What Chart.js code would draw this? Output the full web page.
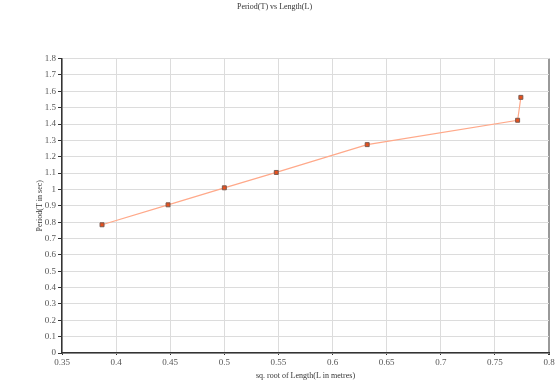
<!DOCTYPE html>
<html>
<head>
<meta charset="utf-8">
<script src="https://cdn.jsdelivr.net/npm/chart.js@4/dist/chart.umd.min.js"></script>
<style>
  html, body { margin: 0; padding: 0; background: #fff; }
  #wrap { width: 560px; height: 382px; }
</style>
</head>
<body>
<div id="wrap"><canvas id="chart" width="560" height="382"></canvas></div>
<script>
// data
const sqrtLength = [0.387, 0.448, 0.500, 0.548, 0.632, 0.771, 0.774];
const period = [0.784, 0.906, 1.010, 1.104, 1.274, 1.423, 1.563];

const chartTitle = 'Period(T) vs Length(L)';
const xTitle = 'sq. root of Length(L in metres)';
const yTitle = 'Period(T in sec)';

const points = sqrtLength.map((x, i) => ({ x: x, y: period[i] }));

const serif = '"Liberation Serif", "DejaVu Serif", serif';

new Chart(document.getElementById('chart'), {
    type: 'scatter',
    data: {
        datasets: [{
            data: points,
            showLine: true,
            borderColor: '#ffa98a',
            borderWidth: 1.2,
            pointStyle: 'rect',
            pointRadius: 2.8,
            pointBackgroundColor: '#e8501c',
            pointBorderColor: '#7a5a50',
            pointBorderWidth: 1
        }]
    },
    options: {
        responsive: false,
        animation: false,
        layout: { padding: { top: 2, right: 11, left: 0, bottom: 0 } },
        plugins: {
            legend: { display: false },
            tooltip: { enabled: false },
            title: {
                display: true,
                text: chartTitle,
                color: '#333',
                font: { family: serif, size: 8, weight: 'normal' },
                padding: { top: 0, bottom: 47 }
            }
        },
        scales: {
            x: {
                type: 'linear',
                min: 0.35,
                max: 0.8,
                afterFit: (s) => { s.height = 29; },
                ticks: {
                    stepSize: 0.05,
                    color: '#555',
                    padding: 2,
                    font: { family: serif, size: 9 },
                    callback: (v) => String(Math.round(v * 100) / 100)
                },
                grid: {
                    color: (c) => (c.tick && Math.abs(c.tick.value - 0.8) < 1e-6) ? '#999' : '#dcdcdc',
                    lineWidth: (c) => (c.tick && Math.abs(c.tick.value - 0.8) < 1e-6) ? 2 : 1,
                    drawTicks: true,
                    tickLength: 2,
                    tickColor: '#333'
                },
                border: { color: '#333', width: 1.5 },
                title: {
                    display: true,
                    text: xTitle,
                    color: '#333',
                    font: { family: serif, size: 8 },
                    padding: { top: 2, bottom: 1 }
                }
            },
            y: {
                min: 0,
                max: 1.8,
                afterFit: (s) => { s.width = 62; },
                ticks: {
                    stepSize: 0.1,
                    color: '#555',
                    padding: 2,
                    font: { family: serif, size: 9 },
                    callback: (v) => String(Math.round(v * 10) / 10)
                },
                grid: {
                    color: '#dcdcdc',
                    lineWidth: 1,
                    tickLength: 4,
                    tickColor: '#333'
                },
                border: { color: '#333', width: 1.5 },
                title: {
                    display: true,
                    text: yTitle,
                    color: '#333',
                    font: { family: serif, size: 8 },
                    padding: { top: 35, bottom: 2 }
                }
            }
        }
    }
});
</script>
</body>
</html>
